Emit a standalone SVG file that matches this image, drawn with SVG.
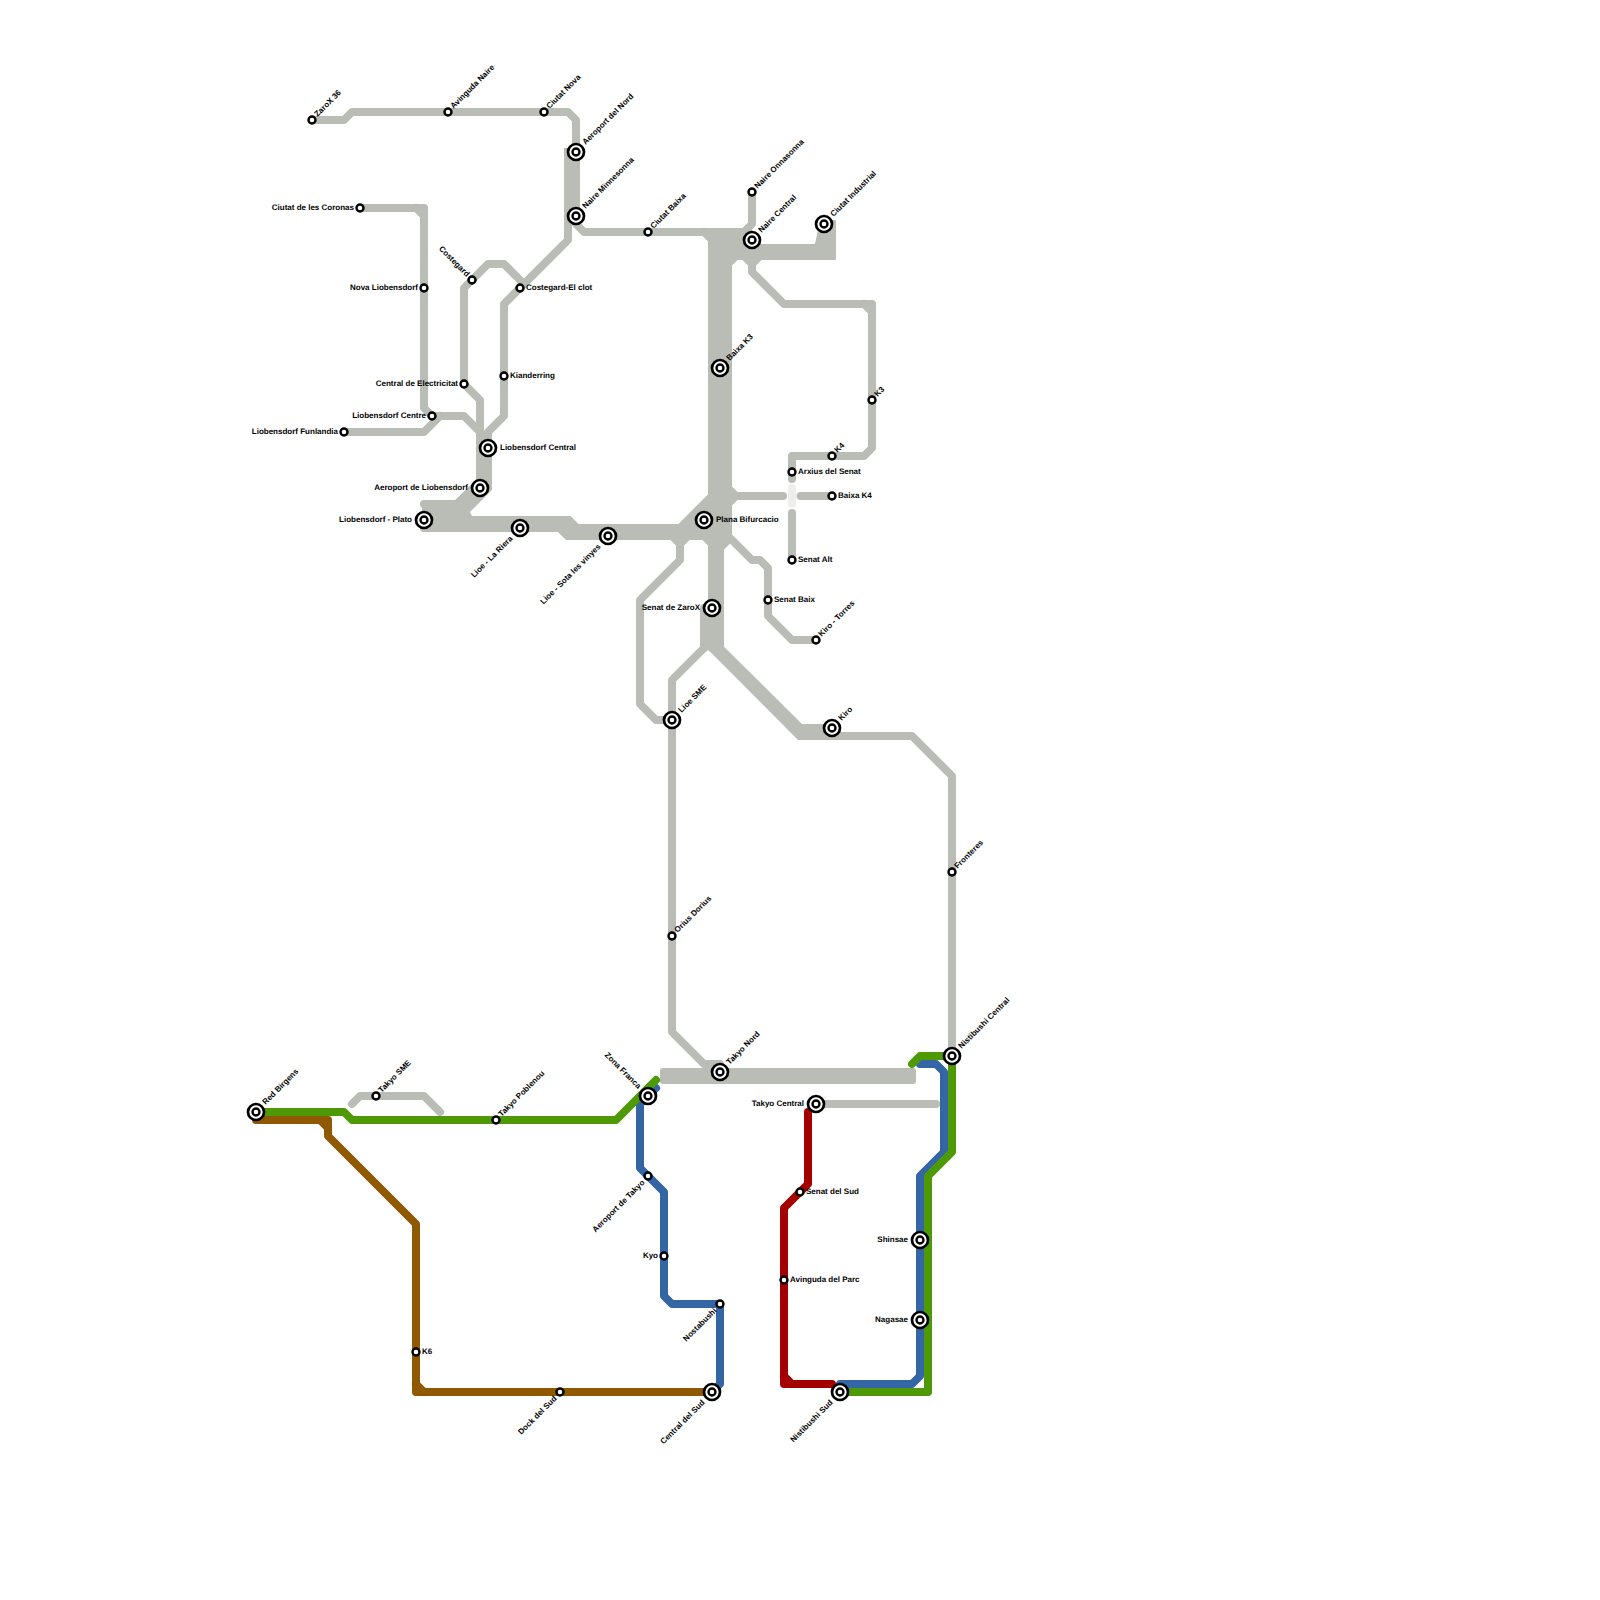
<svg xmlns="http://www.w3.org/2000/svg" width="1600" height="1600" viewBox="0 0 1600 1600">
<style>
.l{fill:none;stroke-width:8;stroke-linecap:round;stroke-linejoin:round}
.g{stroke:#babdb6}.p{stroke:#eeeeec}.br{stroke:#8f5902}.bl{stroke:#3465a4}.gr{stroke:#4e9a06}.r{stroke:#a40000}
.f{fill:#babdb6;stroke:none}
.o{fill:#fff;stroke:#000;stroke-width:2.7}
.i{fill:#fff;stroke:#000;stroke-width:2.4}
text{font:bold 8px "Liberation Sans",Arial,sans-serif;fill:#000;text-rendering:geometricPrecision}
.e{text-anchor:end}
</style>
<rect width="1600" height="1600" fill="#fff"/>
<g id="connectors">
<g id="line-grey">
<path class="l g" d="M312 120H344L352 112H568L576 120V224L584 232H744L752 224V192"/>
<path class="l g" d="M568 152V240L504 304V416L488 432"/>
<rect class="f" x="564" y="148" width="16" height="72"/>
<path class="l g" d="M464 384V288L488 264H504L524 284"/>
<path class="l g" d="M464 384L480 400V440"/>
<path class="l g" d="M360 208H424V408L432 416H464L488 440"/>
<path class="l g" d="M416 208L424 216"/>
<path class="l g" d="M344 432H424L440 416"/>
<rect class="f" x="476" y="432" width="16" height="58"/>
<polygon class="f" points="455,500 478,478 492,478 492,490 470,512 472,516 440,516"/>
<rect class="f" x="422" y="500" width="40" height="32" rx="2"/>
<path class="l g" d="M424 504H456M424 528H560L568 536H704M424 520H568L576 528H704"/>
<rect class="f" x="424" y="516" width="140" height="16"/>
<polygon class="f" points="558,516 570.500,516 578.500,524 590,524 590,540 566,540 558,532"/>
<polygon class="f" points="672,524 680,524 708,495 732,495 732,540 672,540"/>
<path class="l g" d="M712 496L680 528"/>
<rect class="f" x="708" y="232" width="24" height="308"/>
<path class="l g" d="M704 232L712 240"/>
<rect class="f" x="708" y="228" width="44" height="32"/>
<rect class="f" x="748" y="244" width="88" height="16" rx="1.500"/>
<polygon class="f" points="820,220 836,220 836,250 815,244"/>
<path class="l g" d="M728 264L736 256H832V224M824 224V240L816 248"/>
<path class="l g" d="M744 256L752 264V272L784 304H872V448L864 456H792V479"/>
<path class="l g" d="M760 256L752 264M864 304L872 312"/>
<path class="l g" d="M728 488L736 496H783M736 496L728 504M800.500 496H832"/>
<path class="l p" d="M792 488V504"/>
<path class="l g" d="M792 513V560"/>
<path class="l g" d="M728 536L752 560H760L768 568V616L792 640H816"/>
<path class="l g" d="M704 536L712 544V648M728 540L720 548V648"/>
<rect class="f" x="708" y="540" width="16" height="108"/>
<rect class="f" x="700" y="608" width="24" height="40"/>
<path class="l g" d="M672 536L680 544V560L640 600V704L656 720H672M688 536L680 544"/>
<path class="l g" d="M704 608V648"/>
<path class="l g" d="M704 648L672 680V1032L704 1064H720"/>
<polygon class="f" points="708,640 724,640 724,646.700 802,724 832,724 832,740 798,740 711.700,652 708,650"/>
<path class="l g" d="M712 648L800 736H912L952 776V1056"/>
<rect class="f" x="660" y="1068" width="256" height="16" rx="3"/>
<path class="l g" d="M816 1104H936"/>
<path class="l g" d="M352 1104L360 1096H424L440 1112"/>
</g>
<path id="line-brown" class="l br" d="M256 1120H328V1136L416 1224V1392H712M320 1120L328 1128M416 1384L424 1392"/>
<path id="line-blue" class="l bl" d="M656 1088L640 1104V1168L664 1192V1296L672 1304H720V1384L712 1392M920 1064H936L944 1072V1152L920 1176V1376L912 1384H840"/>
<path id="line-green" class="l gr" d="M256 1112H344L352 1120H616L656 1080M912 1064L920 1056H952V1152L928 1176V1392H840"/>
<path id="line-red" class="l r" d="M808 1112V1184L784 1208V1384H832M784 1376L792 1384"/>
</g>
<g id="n01"><circle class="i" cx="312" cy="120" r="3.500"/><text transform="translate(315.500 115) rotate(-45)" y="3">ZaroX 36</text></g>
<g id="n02"><circle class="i" cx="448" cy="112" r="3.500"/><text transform="translate(451.500 107) rotate(-45)" y="3">Avinguda Naire</text></g>
<g id="n03"><circle class="i" cx="544" cy="112" r="3.500"/><text transform="translate(547.500 107) rotate(-45)" y="3">Ciutat Nova</text></g>
<g id="n04"><circle class="o" cx="576" cy="152" r="8"/><circle class="i" cx="576" cy="152" r="3.500"/><text transform="translate(583.500 143) rotate(-45)" y="3">Aeroport del Nord</text></g>
<g id="n05"><circle class="o" cx="576" cy="216" r="8"/><circle class="i" cx="576" cy="216" r="3.500"/><text transform="translate(583.500 207) rotate(-45)" y="3">Naire Minnesonna</text></g>
<g id="n06"><circle class="i" cx="648" cy="232" r="3.500"/><text transform="translate(651.500 227) rotate(-45)" y="3">Ciutat Baixa</text></g>
<g id="n07"><circle class="i" cx="752" cy="192" r="3.500"/><text transform="translate(755.500 187) rotate(-45)" y="3">Naire Onnasonna</text></g>
<g id="n08"><circle class="o" cx="752" cy="240" r="8"/><circle class="i" cx="752" cy="240" r="3.500"/><text transform="translate(759.500 231) rotate(-45)" y="3">Naire Central</text></g>
<g id="n09"><circle class="o" cx="824" cy="224" r="8"/><circle class="i" cx="824" cy="224" r="3.500"/><text transform="translate(831.500 215) rotate(-45)" y="3">Ciutat Industrial</text></g>
<g id="n10"><circle class="o" cx="720" cy="368" r="8"/><circle class="i" cx="720" cy="368" r="3.500"/><text transform="translate(727.500 359) rotate(-45)" y="3">Baixa K3</text></g>
<g id="n11"><circle class="i" cx="872" cy="400" r="3.500"/><text transform="translate(875.500 395) rotate(-45)" y="3">K3</text></g>
<g id="n12"><circle class="i" cx="832" cy="456" r="3.500"/><text transform="translate(835.500 451) rotate(-45)" y="3">K4</text></g>
<g id="n13"><circle class="i" cx="792" cy="472" r="3.500"/><text x="798" y="474">Arxius del Senat</text></g>
<g id="n14"><circle class="i" cx="832" cy="496" r="3.500"/><text x="838" y="498">Baixa K4</text></g>
<g id="n15"><circle class="i" cx="792" cy="560" r="3.500"/><text x="798" y="562">Senat Alt</text></g>
<g id="n16"><circle class="i" cx="768" cy="600" r="3.500"/><text x="774" y="602">Senat Baix</text></g>
<g id="n17"><circle class="i" cx="816" cy="640" r="3.500"/><text transform="translate(819.500 635) rotate(-45)" y="3">Kiro - Torres</text></g>
<g id="n18"><circle class="o" cx="832" cy="728" r="8"/><circle class="i" cx="832" cy="728" r="3.500"/><text transform="translate(839.500 719) rotate(-45)" y="3">Kiro</text></g>
<g id="n19"><circle class="o" cx="672" cy="720" r="8"/><circle class="i" cx="672" cy="720" r="3.500"/><text transform="translate(679.500 711) rotate(-45)" y="3">Lioe SME</text></g>
<g id="n20"><circle class="i" cx="672" cy="936" r="3.500"/><text transform="translate(675.500 931) rotate(-45)" y="3">Orius Dorius</text></g>
<g id="n21"><circle class="i" cx="952" cy="872" r="3.500"/><text transform="translate(955.500 867) rotate(-45)" y="3">Fronteres</text></g>
<g id="n22"><circle class="o" cx="952" cy="1056" r="8"/><circle class="i" cx="952" cy="1056" r="3.500"/><text transform="translate(959.500 1047) rotate(-45)" y="3">Nistibushi Central</text></g>
<g id="n23"><circle class="o" cx="720" cy="1072" r="8"/><circle class="i" cx="720" cy="1072" r="3.500"/><text transform="translate(727.500 1063) rotate(-45)" y="3">Takyo Nord</text></g>
<g id="n24"><circle class="o" cx="816" cy="1104" r="8"/><circle class="i" cx="816" cy="1104" r="3.500"/><text class="e" x="804" y="1106">Takyo Central</text></g>
<g id="n25"><circle class="i" cx="800" cy="1192" r="3.500"/><text x="806" y="1194">Senat del Sud</text></g>
<g id="n26"><circle class="i" cx="784" cy="1280" r="3.500"/><text x="790" y="1282">Avinguda del Parc</text></g>
<g id="n27"><circle class="o" cx="920" cy="1240" r="8"/><circle class="i" cx="920" cy="1240" r="3.500"/><text class="e" x="908" y="1242">Shinsae</text></g>
<g id="n28"><circle class="o" cx="920" cy="1320" r="8"/><circle class="i" cx="920" cy="1320" r="3.500"/><text class="e" x="908" y="1322">Nagasae</text></g>
<g id="n29"><circle class="o" cx="840" cy="1392" r="8"/><circle class="i" cx="840" cy="1392" r="3.500"/><text class="e" transform="translate(831 1401) rotate(-45)" y="3">Nistibushi Sud</text></g>
<g id="n30"><circle class="o" cx="712" cy="1392" r="8"/><circle class="i" cx="712" cy="1392" r="3.500"/><text class="e" transform="translate(703 1401) rotate(-45)" y="3">Central del Sud</text></g>
<g id="n31"><circle class="i" cx="720" cy="1304" r="3.500"/><text class="e" transform="translate(715 1309) rotate(-45)" y="3">Nostabushi</text></g>
<g id="n32"><circle class="i" cx="664" cy="1256" r="3.500"/><text class="e" x="658" y="1258">Kyo</text></g>
<g id="n33"><circle class="i" cx="648" cy="1176" r="3.500"/><text class="e" transform="translate(643 1181) rotate(-45)" y="3">Aeroport de Takyo</text></g>
<g id="n34"><circle class="o" cx="648" cy="1096" r="8"/><circle class="i" cx="648" cy="1096" r="3.500"/><text class="e" transform="translate(640 1087) rotate(45)" y="3">Zona Franca</text></g>
<g id="n35"><circle class="i" cx="560" cy="1392" r="3.500"/><text class="e" transform="translate(555 1397) rotate(-45)" y="3">Dock del Sud</text></g>
<g id="n36"><circle class="i" cx="416" cy="1352" r="3.500"/><text x="422" y="1354">K6</text></g>
<g id="n37"><circle class="i" cx="496" cy="1120" r="3.500"/><text transform="translate(499.500 1115) rotate(-45)" y="3">Takyo Poblenou</text></g>
<g id="n38"><circle class="i" cx="376" cy="1096" r="3.500"/><text transform="translate(379.500 1091) rotate(-45)" y="3">Takyo SME</text></g>
<g id="n39"><circle class="o" cx="256" cy="1112" r="8"/><circle class="i" cx="256" cy="1112" r="3.500"/><text transform="translate(263.500 1103) rotate(-45)" y="3">Red Birgens</text></g>
<g id="n40"><circle class="o" cx="424" cy="520" r="8"/><circle class="i" cx="424" cy="520" r="3.500"/><text class="e" x="412" y="522">Liobensdorf - Plato</text></g>
<g id="n41"><circle class="o" cx="480" cy="488" r="8"/><circle class="i" cx="480" cy="488" r="3.500"/><text class="e" x="468" y="490">Aeroport de Liobensdorf</text></g>
<g id="n42"><circle class="o" cx="488" cy="448" r="8"/><circle class="i" cx="488" cy="448" r="3.500"/><text x="500" y="450">Liobensdorf Central</text></g>
<g id="n43"><circle class="i" cx="344" cy="432" r="3.500"/><text class="e" x="338" y="434">Liobensdorf Funlandia</text></g>
<g id="n44"><circle class="i" cx="432" cy="416" r="3.500"/><text class="e" x="426" y="418">Liobensdorf Centre</text></g>
<g id="n45"><circle class="i" cx="464" cy="384" r="3.500"/><text class="e" x="458" y="386">Central de Electricitat</text></g>
<g id="n46"><circle class="i" cx="504" cy="376" r="3.500"/><text x="510" y="378">Kianderring</text></g>
<g id="n47"><circle class="i" cx="520" cy="288" r="3.500"/><text x="526" y="290">Costegard-El clot</text></g>
<g id="n48"><circle class="i" cx="472" cy="280" r="3.500"/><text class="e" transform="translate(468.500 275) rotate(45)" y="3">Costegard</text></g>
<g id="n49"><circle class="i" cx="424" cy="288" r="3.500"/><text class="e" x="418" y="290">Nova Liobensdorf</text></g>
<g id="n50"><circle class="i" cx="360" cy="208" r="3.500"/><text class="e" x="354" y="210">Ciutat de les Coronas</text></g>
<g id="n51"><circle class="o" cx="520" cy="528" r="8"/><circle class="i" cx="520" cy="528" r="3.500"/><text class="e" transform="translate(511 537) rotate(-45)" y="3">Lioe - La Riera</text></g>
<g id="n52"><circle class="o" cx="608" cy="536" r="8"/><circle class="i" cx="608" cy="536" r="3.500"/><text class="e" transform="translate(599 545) rotate(-45)" y="3">Lioe - Sota les vinyes</text></g>
<g id="n53"><circle class="o" cx="704" cy="520" r="8"/><circle class="i" cx="704" cy="520" r="3.500"/><text x="716" y="522">Plana Bifurcacio</text></g>
<g id="n54"><circle class="o" cx="712" cy="608" r="8"/><circle class="i" cx="712" cy="608" r="3.500"/><text class="e" x="700" y="610">Senat de ZaroX</text></g>
</svg>
